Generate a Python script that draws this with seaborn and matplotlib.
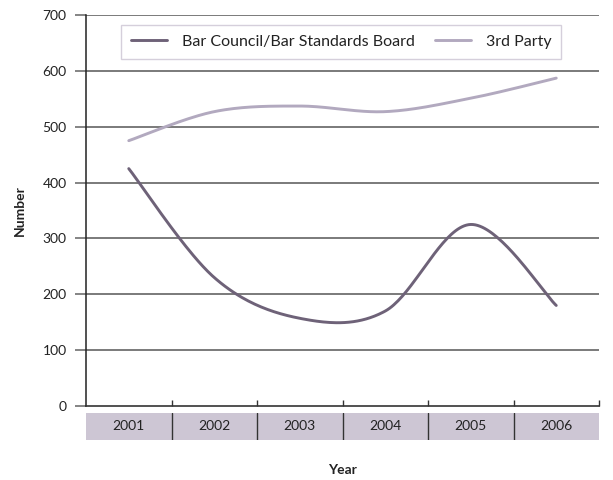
import numpy as np
import pandas as pd
import matplotlib
matplotlib.use("Agg")
import matplotlib.pyplot as plt
from matplotlib.lines import Line2D
import seaborn as sns

# Complaint sources by year
years = ["2001", "2002", "2003", "2004", "2005", "2006"]
bar_council = [425, 230, 157, 170, 325, 180]
third_party = [475, 527, 537, 527, 551, 587]
series_names = ["Bar Council/Bar Standards Board", "3rd Party"]
series_colors = ["#6e6278", "#b2a9bf"]
y_ticks = [0, 100, 200, 300, 400, 500, 600, 700]


def smooth(values, n=40):
    """Cardinal (Catmull-Rom style) smoothing through every point."""
    v = np.asarray(values, dtype=float)
    x = np.arange(len(v), dtype=float)
    pts = np.column_stack([x, v])
    ext = np.vstack([pts[0], pts, pts[-1]])
    out = []
    for i in range(len(pts) - 1):
        p0, p1, p2, p3 = ext[i], ext[i + 1], ext[i + 2], ext[i + 3]
        c1 = p1 + (p2 - p0) / 6.0
        c2 = p2 - (p3 - p1) / 6.0
        t = np.linspace(0, 1, n, endpoint=(i == len(pts) - 2))[:, None]
        seg = ((1 - t) ** 3) * p1 + 3 * ((1 - t) ** 2) * t * c1 + 3 * (1 - t) * t ** 2 * c2 + t ** 3 * p2
        out.append(seg)
    return np.vstack(out)


frames = []
for name, vals in zip(series_names, [bar_council, third_party]):
    curve = smooth(vals)
    frames.append(pd.DataFrame({"x": curve[:, 0], "value": curve[:, 1], "series": name}))
df = pd.concat(frames, ignore_index=True)

sns.set_theme(style="white")
plt.rcParams["font.family"] = ["Lato", "DejaVu Sans"]

fig = plt.figure(figsize=(6.13, 4.8), dpi=100)
ax = fig.add_axes([86 / 613, 1 - 406 / 480, 513 / 613, 391 / 480])

sns.lineplot(data=df, x="x", y="value", hue="series", hue_order=series_names,
             palette=series_colors, sort=False, estimator=None, units="series",
             linewidth=2.1, legend=False, ax=ax, zorder=3)

ax.set_xlim(-0.5, 5.5)
ax.set_ylim(0, 700)
ax.set_yticks(y_ticks)
ax.set_yticklabels([str(t) for t in y_ticks], fontsize=10, color="#222222")
for t in y_ticks[1:]:
    ax.axhline(t, color="#6f6f6f", linewidth=1.3, zorder=1)
ax.tick_params(axis="y", direction="out", length=8, width=1.2, color="#6f6f6f", pad=6, left=True)
ax.set_xticks([0.5, 1.5, 2.5, 3.5, 4.5, 5.5])
ax.set_xticklabels([])
ax.tick_params(axis="x", direction="in", length=4, width=1.0, color="#333333", bottom=True)
ax.set_xlabel("")
ax.set_ylabel("Number", fontsize=10, fontweight="bold", color="#222222")
ax.yaxis.set_label_coords(-0.117, 0.5)
for side in ["top", "right"]:
    ax.spines[side].set_visible(False)
ax.spines["left"].set_color("#222222")
ax.spines["left"].set_linewidth(1.1)
ax.spines["bottom"].set_color("#333333")
ax.spines["bottom"].set_linewidth(1.2)

handles = [Line2D([0], [0], color=c, linewidth=2.1) for c in series_colors]
leg = ax.legend(handles, series_names, loc="upper center", bbox_to_anchor=(0.497, 0.974),
                borderaxespad=0, ncol=2, frameon=True, fancybox=False, fontsize=11.5,
                handlelength=2.3, columnspacing=1.25, handletextpad=0.9, borderpad=0.6)
leg.get_frame().set_edgecolor("#cbc4d3")
leg.get_frame().set_linewidth(1.0)
leg.get_frame().set_facecolor("white")
for txt in leg.get_texts():
    txt.set_color("#222222")

# Category band below the plot
band = fig.add_axes([86 / 613, 1 - 440 / 480, 513 / 613, 27 / 480])
band.set_xlim(-0.5, 5.5)
band.set_ylim(0, 1)
band.axvspan(-0.5, 5.5, color="#cdc6d4", linewidth=0)
for b in [0.5, 1.5, 2.5, 3.5, 4.5]:
    band.axvline(b, color="#333333", linewidth=1.0)
for i, yr in enumerate(years):
    band.text(i, 0.5, yr, ha="center", va="center", fontsize=10, color="#222222")
band.axis("off")

fig.text(342.5 / 613, 1 - 470 / 480, "Year", ha="center", va="center",
         fontsize=10, fontweight="bold", color="#222222")

fig.savefig("out.png", dpi=100, facecolor="white")
